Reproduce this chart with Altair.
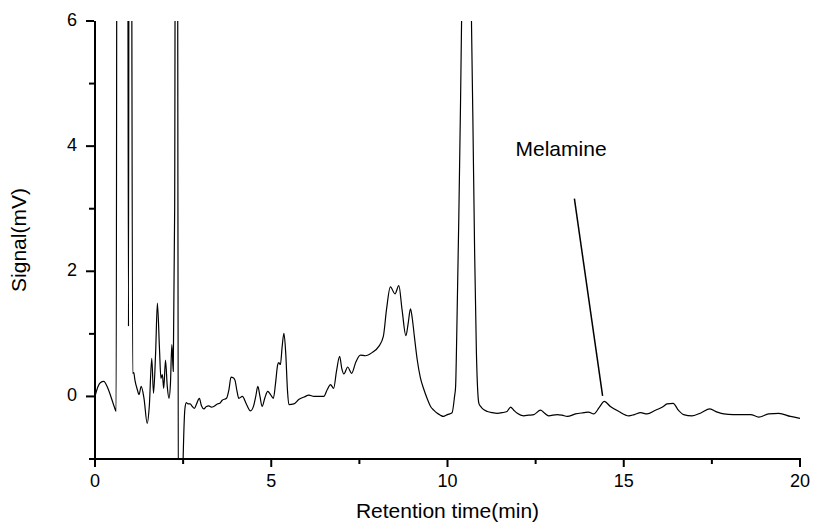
import altair as alt
import pandas as pd

# Chromatogram trace (retention time in min, signal in mV); values above 6 / below -1 run off the plot
time_min = [0.00, 0.08, 0.15, 0.25, 0.35, 0.45, 0.55, 0.60, 0.63, 0.92, 0.95, 0.97, 1.02, 1.07,
            1.10, 1.13, 1.20, 1.25, 1.31, 1.39, 1.48, 1.54, 1.61, 1.66, 1.72, 1.77, 1.83, 1.87,
            1.91, 1.95, 2.00, 2.05, 2.10, 2.14, 2.18, 2.22, 2.26, 2.29, 2.33, 2.37, 2.44, 2.50,
            2.55, 2.59, 2.64, 2.70, 2.76, 2.82, 2.88, 2.96, 3.02, 3.09, 3.16, 3.23, 3.30, 3.37,
            3.47, 3.54, 3.61, 3.73, 3.80, 3.86, 3.92, 3.97, 4.03, 4.08, 4.18, 4.30, 4.41, 4.50,
            4.56, 4.62, 4.68, 4.74, 4.82, 4.90, 4.98, 5.06, 5.12, 5.18, 5.21, 5.26, 5.31, 5.36,
            5.41, 5.46, 5.50, 5.64, 5.78, 5.93, 6.07, 6.21, 6.35, 6.49, 6.59, 6.68, 6.77, 6.85,
            6.94, 7.00, 7.06, 7.17, 7.28, 7.40, 7.53, 7.67, 7.86, 8.05, 8.18, 8.27, 8.38, 8.51,
            8.62, 8.71, 8.82, 8.88, 8.95, 9.00, 9.06, 9.14, 9.23, 9.33, 9.42, 9.52, 9.61, 9.71,
            9.80, 9.88, 10.00, 10.13, 10.20, 10.23, 10.27, 10.32, 10.37, 10.40, 10.55, 10.68,
            10.72, 10.77, 10.82, 10.89, 10.94, 11.00, 11.13, 11.27, 11.41, 11.55, 11.69, 11.79,
            11.88, 11.98, 12.16, 12.30, 12.45, 12.64, 12.74, 12.87, 13.11, 13.25, 13.40, 13.63,
            13.87, 14.00, 14.15, 14.30, 14.45, 14.62, 14.86, 15.14, 15.30, 15.48, 15.66, 15.90,
            16.10, 16.23, 16.40, 16.55, 16.70, 16.94, 17.20, 17.44, 17.65, 17.84, 18.10, 18.31,
            18.60, 18.83, 19.11, 19.40, 19.73, 20.00]
signal_mv = [0.00, 0.15, 0.22, 0.24, 0.15, 0.00, -0.17, -0.24, 12.0, 12.0, 1.12, 12.0, 12.0, 0.37,
             0.38, 0.27, 0.11, 0.03, 0.16, -0.03, -0.43, -0.16, 0.61, 0.05, 0.70, 1.49, 0.75, 0.29,
             0.35, 0.13, 0.58, 0.16, -0.03, 0.20, 0.83, 0.40, 3.0, 12.0, 12.0, -3.0, -3.0, -1.0,
             -0.20, -0.10, -0.12, -0.12, -0.16, -0.19, -0.12, -0.03, -0.15, -0.20, -0.16, -0.15, -0.17, -0.16,
             -0.12, -0.11, -0.06, -0.03, 0.11, 0.31, 0.30, 0.26, 0.08, -0.03, 0.00, -0.13, -0.23, -0.15,
             0.00, 0.16, 0.00, -0.16, -0.02, 0.08, 0.03, -0.03, 0.20, 0.50, 0.54, 0.51, 0.80, 1.01,
             0.70, 0.10, -0.13, -0.12, -0.05, -0.01, 0.02, 0.00, 0.00, 0.00, 0.11, 0.19, 0.13, 0.40,
             0.64, 0.45, 0.36, 0.47, 0.37, 0.55, 0.66, 0.65, 0.70, 0.80, 0.96, 1.39, 1.75, 1.64,
             1.77, 1.39, 0.97, 1.15, 1.40, 1.25, 0.96, 0.59, 0.30, 0.11, -0.03, -0.16, -0.22, -0.27,
             -0.30, -0.32, -0.29, -0.26, 0.00, 0.16, 1.23, 2.83, 4.70, 6.03, 14.0, 6.00,
             4.43, 2.29, 0.70, -0.11, -0.16, -0.20, -0.24, -0.26, -0.27, -0.26, -0.24, -0.17,
             -0.22, -0.27, -0.31, -0.30, -0.29, -0.22, -0.26, -0.31, -0.29, -0.30, -0.32, -0.28,
             -0.26, -0.25, -0.28, -0.18, -0.08, -0.16, -0.24, -0.31, -0.29, -0.26, -0.28, -0.22,
             -0.17, -0.12, -0.11, -0.22, -0.29, -0.31, -0.26, -0.20, -0.25, -0.28, -0.29, -0.29,
             -0.29, -0.33, -0.28, -0.27, -0.32, -0.35]

# Axis ticks (major labelled, minor unlabelled)
x_major = [0, 5, 10, 15, 20]
x_minor = [2.5, 7.5, 12.5, 17.5]
y_major = [0, 2, 4, 6]
y_minor = [-1, 1, 3, 5]
x_title = ["Retention time(min)"]
y_title = ["Signal(mV)"]

# Annotation
label_text = ["Melamine"]
label_x = [11.93]
label_y = [3.84]
pointer_x = [13.6]
pointer_y = [3.16]
pointer_x2 = [14.4]
pointer_y2 = [0.01]

FONT = "Liberation Sans"
W, H = 705, 438

trace = pd.DataFrame({"t": time_min, "s": signal_mv})
label_df = pd.DataFrame({"lbl": label_text, "px": label_x, "py": label_y})
pointer_df = pd.DataFrame({"ax": pointer_x, "ay": pointer_y, "ax2": pointer_x2, "ay2": pointer_y2})
xmaj_df = pd.DataFrame({"v": x_major})
xmin_df = pd.DataFrame({"v": x_minor})
ymaj_df = pd.DataFrame({"v": y_major})
ymin_df = pd.DataFrame({"v": y_minor})
xtitle_df = pd.DataFrame({"txt": x_title})
ytitle_df = pd.DataFrame({"txt": y_title})

x_scale = alt.Scale(domain=[0, 20], nice=False, zero=False)
y_scale = alt.Scale(domain=[-1, 6], nice=False, zero=False)

line = alt.Chart(trace).mark_line(
    color="black", strokeWidth=1.2, clip=True, interpolate="monotone"
).encode(
    x=alt.X("t:Q", scale=x_scale, axis=None),
    y=alt.Y("s:Q", scale=y_scale, axis=None),
    order="t:Q",
)

pointer = alt.Chart(pointer_df).mark_rule(color="black", strokeWidth=1.5).encode(
    x=alt.X("ax:Q", scale=x_scale, axis=None),
    y=alt.Y("ay:Q", scale=y_scale, axis=None),
    x2="ax2:Q",
    y2="ay2:Q",
)

label = alt.Chart(label_df).mark_text(
    align="left", baseline="alphabetic", font=FONT, fontSize=21, color="black"
).encode(
    x=alt.X("px:Q", scale=x_scale, axis=None),
    y=alt.Y("py:Q", scale=y_scale, axis=None),
    text="lbl:N",
)

# axis lines (left and bottom only)
y_domain = alt.Chart(xtitle_df).mark_rule(color="black", strokeWidth=2).encode(
    x=alt.value(0), y=alt.value(0), y2=alt.value(H + 1)
)
x_domain = alt.Chart(xtitle_df).mark_rule(color="black", strokeWidth=2).encode(
    y=alt.value(H), x=alt.value(-1), x2=alt.value(W + 1)
)

# tick marks positioned by the shared scales
x_major_ticks = alt.Chart(xmaj_df).mark_rule(color="black", strokeWidth=2).encode(
    x=alt.X("v:Q", scale=x_scale, axis=None), y=alt.value(H + 1), y2=alt.value(H + 8)
)
x_minor_ticks = alt.Chart(xmin_df).mark_rule(color="black", strokeWidth=2).encode(
    x=alt.X("v:Q", scale=x_scale, axis=None), y=alt.value(H + 1), y2=alt.value(H + 5)
)
y_major_ticks = alt.Chart(ymaj_df).mark_rule(color="black", strokeWidth=2).encode(
    y=alt.Y("v:Q", scale=y_scale, axis=None), x=alt.value(-9), x2=alt.value(-1)
)
y_minor_ticks = alt.Chart(ymin_df).mark_rule(color="black", strokeWidth=2).encode(
    y=alt.Y("v:Q", scale=y_scale, axis=None), x=alt.value(-6), x2=alt.value(-1)
)

# tick labels
x_labels = alt.Chart(xmaj_df).mark_text(
    align="center", baseline="alphabetic", font=FONT, fontSize=18, color="black"
).encode(
    x=alt.X("v:Q", scale=x_scale, axis=None),
    y=alt.value(H + 28),
    text=alt.Text("v:Q", format="d"),
)
y_labels = alt.Chart(ymaj_df).mark_text(
    align="right", baseline="middle", font=FONT, fontSize=18, color="black"
).encode(
    y=alt.Y("v:Q", scale=y_scale, axis=None),
    x=alt.value(-18),
    text=alt.Text("v:Q", format="d"),
)

# axis titles
x_title_mark = alt.Chart(xtitle_df).mark_text(
    align="center", baseline="alphabetic", font=FONT, fontSize=21, color="black"
).encode(x=alt.value(W / 2), y=alt.value(H + 59), text="txt:N")
y_title_mark = alt.Chart(ytitle_df).mark_text(
    align="center", baseline="middle", font=FONT, fontSize=21, color="black", angle=270
).encode(x=alt.value(-75), y=alt.value(H / 2), text="txt:N")

chart = alt.layer(
    line, pointer, label, y_domain, x_domain,
    x_major_ticks, x_minor_ticks, y_major_ticks, y_minor_ticks,
    x_labels, y_labels, x_title_mark, y_title_mark,
).properties(
    width=W,
    height=H,
    autosize=alt.AutoSizeParams(type="none"),
    padding={"left": 95, "top": 21, "right": 14, "bottom": 68},
    background="white",
).configure_view(stroke=None)

chart.save("out.html", embed_options={"renderer": "svg", "actions": False})
